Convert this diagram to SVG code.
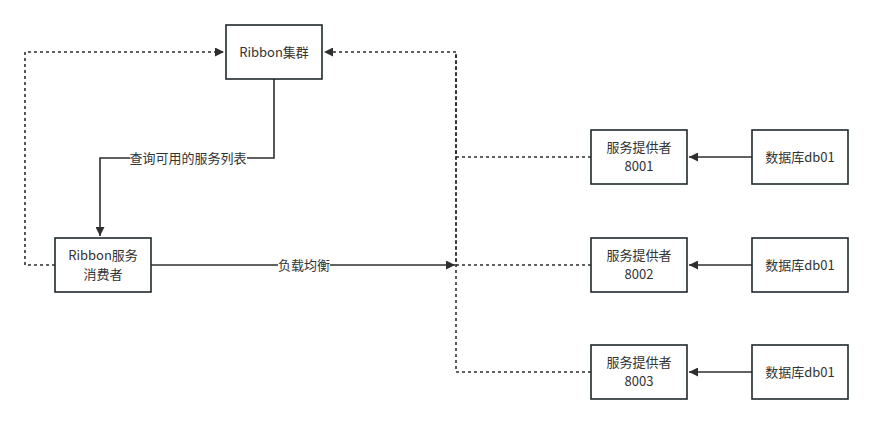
<svg xmlns="http://www.w3.org/2000/svg" width="873" height="424" viewBox="0 0 873 424">
<style>
.box{fill:#fff;stroke:#20282d;stroke-width:1.6}
.t{font-family:"Noto Sans CJK SC","Noto Sans",sans-serif;font-size:13px;fill:#333;text-anchor:middle}
.s{fill:none;stroke:#2e2e2e;stroke-width:1.6}
.d{fill:none;stroke:#2e2e2e;stroke-width:1.6;stroke-dasharray:3 3}
</style>
<defs>
<marker id="a" viewBox="0 0 10 10" refX="10" refY="5" markerWidth="9" markerHeight="9" markerUnits="userSpaceOnUse" orient="auto"><path d="M0,0 L10,5 L0,10 z" fill="#2e2e2e"/></marker>
</defs>
<rect width="873" height="424" fill="#fff"/>
<g id="connectors">
<path class="d" d="M55,265 H25 V52 H224" marker-end="url(#a)"/>
<path class="s" d="M274,79 V158 H100 V236" marker-end="url(#a)"/>
<path class="s" d="M151,265 H455" marker-end="url(#a)"/>
<path class="d" d="M591,157 H456 V52 H324" marker-end="url(#a)"/>
<path class="d" d="M591,265 H456 V52"/>
<path class="d" d="M591,372 H456 V52"/>
<path class="s" d="M752,157 H689" marker-end="url(#a)"/>
<path class="s" d="M752,265 H689" marker-end="url(#a)"/>
<path class="s" d="M752,372 H689" marker-end="url(#a)"/>
<rect x="130" y="150" width="117" height="16" fill="#fff"/>
<text class="t" x="188" y="162.5">查询可用的服务列表</text>
<rect x="278" y="257" width="52" height="16" fill="#fff"/>
<text class="t" x="304" y="269.5">负载均衡</text>
</g>
<g id="ribbon-cluster"><rect class="box" x="226" y="25" width="96" height="54"/><text class="t" x="274" y="56.5">Ribbon集群</text></g>
<g id="consumer"><rect class="box" x="55" y="238" width="96" height="54"/><text class="t" x="103" y="260">Ribbon服务</text><text class="t" x="103" y="279">消费者</text></g>
<g id="provider1"><rect class="box" x="591" y="130" width="96" height="54"/><text class="t" x="639" y="152">服务提供者</text><text class="t" x="639" y="171">8001</text></g>
<g id="provider2"><rect class="box" x="591" y="238" width="96" height="54"/><text class="t" x="639" y="260">服务提供者</text><text class="t" x="639" y="279">8002</text></g>
<g id="provider3"><rect class="box" x="591" y="345" width="96" height="54"/><text class="t" x="639" y="367">服务提供者</text><text class="t" x="639" y="386">8003</text></g>
<g id="db1"><rect class="box" x="752" y="130" width="96" height="54"/><text class="t" x="800" y="161.5">数据库db01</text></g>
<g id="db2"><rect class="box" x="752" y="238" width="96" height="54"/><text class="t" x="800" y="269.5">数据库db01</text></g>
<g id="db3"><rect class="box" x="752" y="345" width="96" height="54"/><text class="t" x="800" y="376.5">数据库db01</text></g>
</svg>
